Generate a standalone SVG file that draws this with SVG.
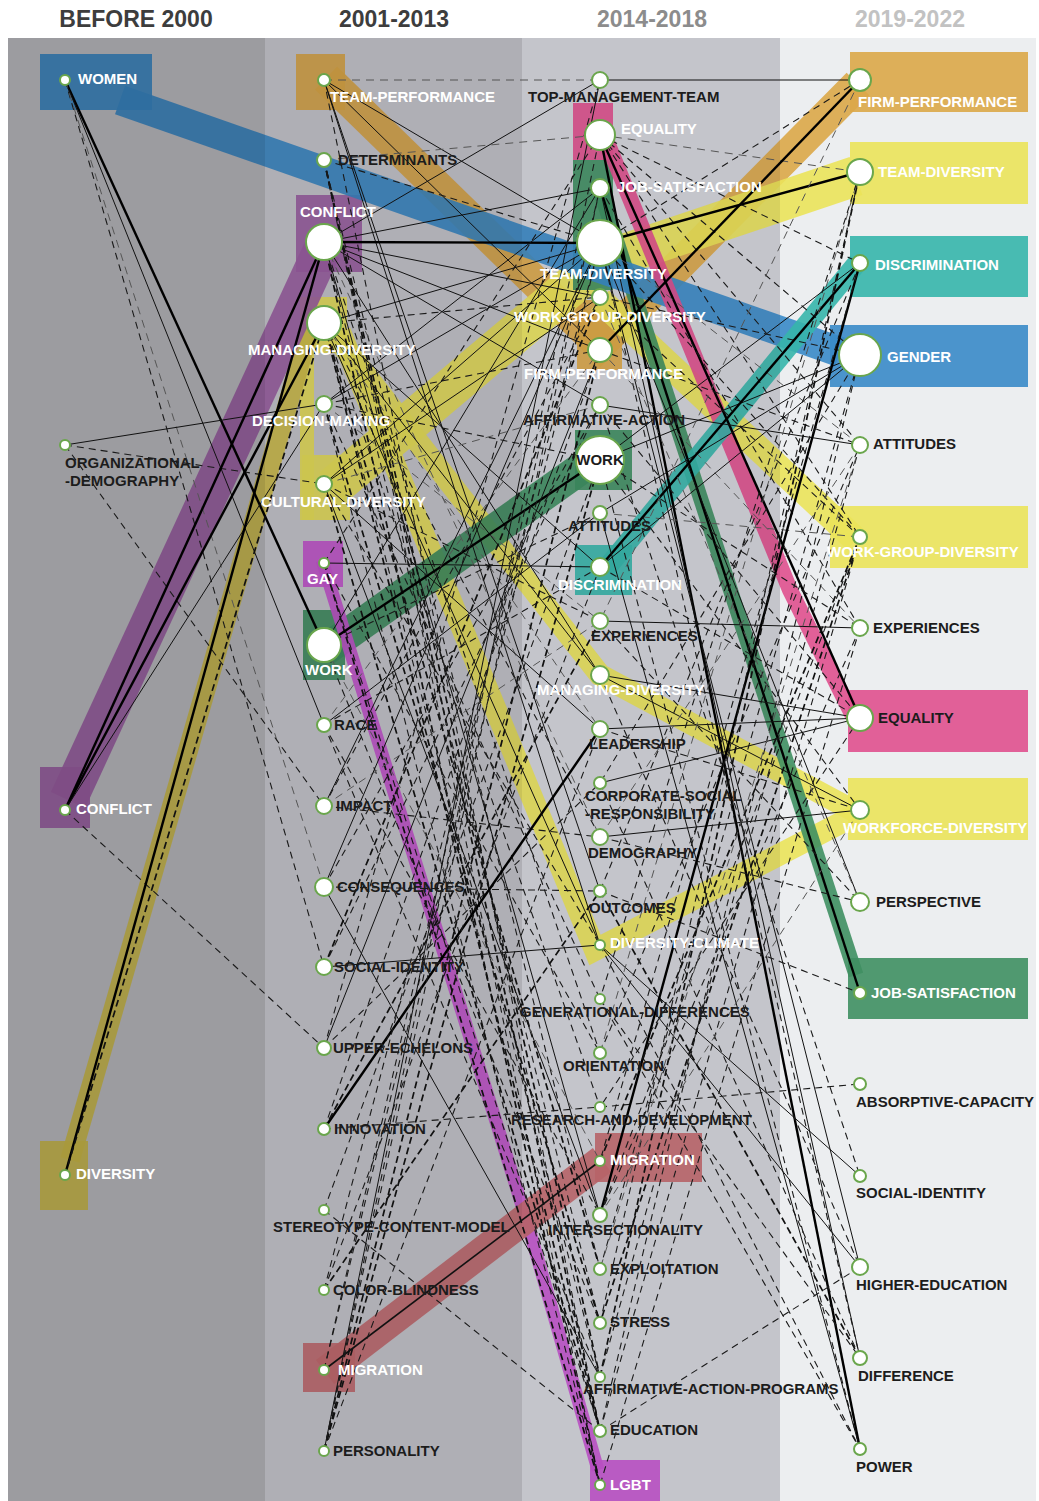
<svg xmlns="http://www.w3.org/2000/svg" width="1039" height="1501" viewBox="0 0 1039 1501">
<style>
.hd{font-family:"Liberation Sans",Arial,sans-serif;font-weight:bold;font-size:23px;text-anchor:middle}
.l{font-family:"Liberation Sans",Arial,sans-serif;font-weight:bold;font-size:15px}
.w{fill:#ffffff}
.k{fill:#1c1c1c}
.nd{fill:#ffffff;stroke:#6aa64c;stroke-width:2}
.b{fill:none;stroke-linejoin:miter;stroke-linecap:butt;opacity:0.9}
.bx{opacity:0.9}
#conn line{fill:none}
.s{stroke:#111;stroke-width:1}
.t{stroke:#000;stroke-width:2.4}
.d{stroke:#1a1a1a;stroke-width:1.1;stroke-dasharray:7 5}
.dd{stroke:#111;stroke-width:1.7;stroke-dasharray:7 4}
.g{stroke:#555;stroke-width:1;stroke-dasharray:8 6}
</style>
<rect x="0" y="0" width="1039" height="1501" fill="#ffffff"/>
<g id="columns">
<rect x="8" y="38" width="257" height="1463" fill="#c4c3c9"/>
<rect x="265" y="38" width="257" height="1463" fill="#cac9d0"/>
<rect x="522" y="38" width="258" height="1463" fill="#d3d4db"/>
<rect x="780" y="38" width="256" height="1463" fill="#eceef0"/>
</g>
<g id="headers">
<text class="hd" x="136" y="27" fill="#3d3d3d">BEFORE 2000</text>
<text class="hd" x="394" y="27" fill="#3d3d3d">2001-2013</text>
<text class="hd" x="652" y="27" fill="#8c8c8c">2014-2018</text>
<text class="hd" x="910" y="27" fill="#c2c2c2">2019-2022</text>
</g>
<g id="flows">
<polyline class="b" stroke="#dca748" stroke-width="32" points="326,78 600,345 858,84"/>
<rect class="bx" fill="#dca748" x="296" y="54" width="49" height="56"/>
<rect class="bx" fill="#dca748" x="577" y="300" width="45" height="70"/>
<rect class="bx" fill="#dca748" x="850" y="52" width="178" height="60"/>
<polyline class="b" stroke="#ebe35a" stroke-width="40" points="332,488 600,262 856,176"/>
<polyline class="b" stroke="#ebe35a" stroke-width="26" points="600,300 856,540"/>
<polyline class="b" stroke="#ebe35a" stroke-width="22" points="332,332 600,675 856,812"/>
<polyline class="b" stroke="#ebe35a" stroke-width="22" points="340,332 595,950 856,815"/>
<rect class="bx" fill="#ebe35a" x="300" y="297" width="47" height="56"/>
<rect class="bx" fill="#ebe35a" x="300" y="297" width="14" height="223"/>
<rect class="bx" fill="#ebe35a" x="302" y="455" width="48" height="65"/>
<rect class="bx" fill="#ebe35a" x="850" y="142" width="178" height="62"/>
<rect class="bx" fill="#ebe35a" x="830" y="506" width="198" height="62"/>
<rect class="bx" fill="#ebe35a" x="848" y="778" width="180" height="62"/>
<polyline class="b" stroke="#d2c04b" stroke-width="20" points="70,1160 315,310"/>
<rect class="bx" fill="#d2c04b" x="40" y="1141" width="48" height="69"/>
<polyline class="b" stroke="#9e60a6" stroke-width="38" points="68,800 322,250"/>
<rect class="bx" fill="#9e60a6" x="40" y="767" width="50" height="61"/>
<rect class="bx" fill="#9e60a6" x="296" y="195" width="66" height="77"/>
<polyline class="b" stroke="#3f8f62" stroke-width="32" points="325,650 600,455"/>
<polyline class="b" stroke="#3f8f62" stroke-width="15" points="600,190 856,975"/>
<rect class="bx" fill="#3f8f62" x="573" y="160" width="40" height="130"/>
<rect class="bx" fill="#3f8f62" x="575" y="430" width="57" height="60"/>
<rect class="bx" fill="#3f8f62" x="303" y="610" width="42" height="70"/>
<rect class="bx" fill="#3f8f62" x="848" y="958" width="180" height="61"/>
<polyline class="b" stroke="#3a8ac8" stroke-width="30" points="120,100 840,352"/>
<rect class="bx" fill="#3a8ac8" x="40" y="54" width="112" height="56"/>
<rect class="bx" fill="#3a8ac8" x="830" y="325" width="198" height="62"/>
<polyline class="b" stroke="#e0508e" stroke-width="16" points="600,125 790,590 855,720"/>
<rect class="bx" fill="#e0508e" x="573" y="103" width="40" height="57"/>
<rect class="bx" fill="#e0508e" x="848" y="690" width="180" height="62"/>
<polyline class="b" stroke="#36b5ab" stroke-width="20" points="605,570 858,262"/>
<rect class="bx" fill="#36b5ab" x="575" y="545" width="57" height="50"/>
<rect class="bx" fill="#36b5ab" x="850" y="236" width="178" height="61"/>
<polyline class="b" stroke="#c755d0" stroke-width="13" points="322,560 528,1225 598,1470"/>
<rect class="bx" fill="#c755d0" x="303" y="541" width="40" height="46"/>
<rect class="bx" fill="#c755d0" x="590" y="1460" width="70" height="41"/>
<polyline class="b" stroke="#c46b70" stroke-width="30" points="325,1372 602,1160"/>
<rect class="bx" fill="#c46b70" x="303" y="1343" width="52" height="49"/>
<rect class="bx" fill="#c46b70" x="595" y="1133" width="107" height="49"/>
</g>
<g id="shade">
<rect x="8" y="38" width="257" height="1463" fill="#000" opacity="0.2"/>
<rect x="265" y="38" width="257" height="1463" fill="#000" opacity="0.13"/>
<rect x="522" y="38" width="258" height="1463" fill="#000" opacity="0.07"/>
</g>
<g id="conn">
<line class="t" x1="65" y1="80" x2="324" y2="645"/>
<line class="s" x1="65" y1="80" x2="324" y2="725"/>
<line class="d" x1="65" y1="80" x2="324" y2="967"/>
<line class="g" x1="65" y1="80" x2="324" y2="887"/>
<line class="s" x1="65" y1="445" x2="324" y2="404"/>
<line class="d" x1="65" y1="445" x2="324" y2="484"/>
<line class="d" x1="65" y1="445" x2="324" y2="806"/>
<line class="t" x1="65" y1="810" x2="324" y2="242"/>
<line class="t" x1="65" y1="810" x2="324" y2="323"/>
<line class="s" x1="65" y1="810" x2="324" y2="404"/>
<line class="d" x1="65" y1="810" x2="324" y2="1048"/>
<line class="t" x1="65" y1="1175" x2="324" y2="242"/>
<line class="dd" x1="65" y1="1175" x2="324" y2="323"/>
<line class="g" x1="324" y1="80" x2="600" y2="80"/>
<line class="s" x1="324" y1="80" x2="600" y2="350"/>
<line class="s" x1="324" y1="80" x2="600" y2="243"/>
<line class="s" x1="324" y1="80" x2="600" y2="945"/>
<line class="s" x1="324" y1="80" x2="600" y2="891"/>
<line class="d" x1="324" y1="80" x2="600" y2="1431"/>
<line class="g" x1="324" y1="160" x2="600" y2="135"/>
<line class="d" x1="324" y1="160" x2="600" y2="243"/>
<line class="dd" x1="324" y1="160" x2="600" y2="1377"/>
<line class="dd" x1="324" y1="160" x2="600" y2="1431"/>
<line class="d" x1="324" y1="160" x2="600" y2="1485"/>
<line class="d" x1="324" y1="160" x2="600" y2="1269"/>
<line class="s" x1="324" y1="242" x2="600" y2="80"/>
<line class="t" x1="324" y1="242" x2="600" y2="243"/>
<line class="s" x1="324" y1="242" x2="600" y2="297"/>
<line class="s" x1="324" y1="242" x2="600" y2="350"/>
<line class="s" x1="324" y1="242" x2="600" y2="188"/>
<line class="s" x1="324" y1="242" x2="600" y2="405"/>
<line class="s" x1="324" y1="242" x2="600" y2="675"/>
<line class="d" x1="324" y1="242" x2="600" y2="1053"/>
<line class="s" x1="324" y1="242" x2="600" y2="1215"/>
<line class="dd" x1="324" y1="242" x2="600" y2="1485"/>
<line class="d" x1="324" y1="242" x2="600" y2="1323"/>
<line class="g" x1="324" y1="242" x2="600" y2="837"/>
<line class="s" x1="324" y1="323" x2="600" y2="243"/>
<line class="d" x1="324" y1="323" x2="600" y2="297"/>
<line class="s" x1="324" y1="323" x2="600" y2="567"/>
<line class="s" x1="324" y1="323" x2="600" y2="945"/>
<line class="s" x1="324" y1="323" x2="600" y2="675"/>
<line class="d" x1="324" y1="323" x2="600" y2="1107"/>
<line class="dd" x1="324" y1="323" x2="600" y2="1269"/>
<line class="d" x1="324" y1="323" x2="600" y2="837"/>
<line class="dd" x1="324" y1="323" x2="600" y2="1431"/>
<line class="d" x1="324" y1="323" x2="600" y2="1377"/>
<line class="g" x1="324" y1="323" x2="600" y2="729"/>
<line class="s" x1="324" y1="404" x2="600" y2="243"/>
<line class="s" x1="324" y1="404" x2="600" y2="188"/>
<line class="d" x1="324" y1="404" x2="600" y2="350"/>
<line class="d" x1="324" y1="404" x2="600" y2="460"/>
<line class="d" x1="324" y1="404" x2="600" y2="999"/>
<line class="dd" x1="324" y1="404" x2="600" y2="1323"/>
<line class="d" x1="324" y1="404" x2="600" y2="1485"/>
<line class="g" x1="324" y1="404" x2="600" y2="621"/>
<line class="s" x1="324" y1="484" x2="600" y2="243"/>
<line class="s" x1="324" y1="484" x2="600" y2="297"/>
<line class="s" x1="324" y1="484" x2="600" y2="729"/>
<line class="d" x1="324" y1="484" x2="600" y2="945"/>
<line class="d" x1="324" y1="484" x2="600" y2="621"/>
<line class="s" x1="324" y1="484" x2="600" y2="1215"/>
<line class="dd" x1="324" y1="484" x2="600" y2="1431"/>
<line class="g" x1="324" y1="484" x2="600" y2="405"/>
<line class="s" x1="324" y1="563" x2="600" y2="567"/>
<line class="dd" x1="324" y1="563" x2="600" y2="1485"/>
<line class="d" x1="324" y1="563" x2="600" y2="1053"/>
<line class="d" x1="324" y1="563" x2="600" y2="1431"/>
<line class="d" x1="324" y1="563" x2="600" y2="135"/>
<line class="t" x1="324" y1="645" x2="600" y2="460"/>
<line class="s" x1="324" y1="645" x2="600" y2="188"/>
<line class="d" x1="324" y1="645" x2="600" y2="1323"/>
<line class="d" x1="324" y1="645" x2="600" y2="513"/>
<line class="g" x1="324" y1="645" x2="600" y2="1161"/>
<line class="s" x1="324" y1="725" x2="600" y2="513"/>
<line class="d" x1="324" y1="725" x2="600" y2="567"/>
<line class="d" x1="324" y1="725" x2="600" y2="1215"/>
<line class="g" x1="324" y1="725" x2="600" y2="350"/>
<line class="d" x1="324" y1="725" x2="600" y2="1377"/>
<line class="d" x1="324" y1="806" x2="600" y2="837"/>
<line class="s" x1="324" y1="806" x2="600" y2="243"/>
<line class="g" x1="324" y1="806" x2="600" y2="621"/>
<line class="d" x1="324" y1="806" x2="600" y2="297"/>
<line class="d" x1="324" y1="887" x2="600" y2="891"/>
<line class="s" x1="324" y1="887" x2="600" y2="243"/>
<line class="s" x1="324" y1="887" x2="600" y2="1377"/>
<line class="d" x1="324" y1="887" x2="600" y2="405"/>
<line class="s" x1="324" y1="967" x2="600" y2="945"/>
<line class="d" x1="324" y1="967" x2="600" y2="405"/>
<line class="dd" x1="324" y1="967" x2="600" y2="297"/>
<line class="d" x1="324" y1="1048" x2="600" y2="80"/>
<line class="s" x1="324" y1="1048" x2="600" y2="350"/>
<line class="d" x1="324" y1="1048" x2="600" y2="783"/>
<line class="t" x1="324" y1="1129" x2="600" y2="729"/>
<line class="d" x1="324" y1="1129" x2="600" y2="1107"/>
<line class="dd" x1="324" y1="1129" x2="600" y2="621"/>
<line class="d" x1="324" y1="1129" x2="600" y2="350"/>
<line class="d" x1="324" y1="1210" x2="600" y2="1431"/>
<line class="d" x1="324" y1="1210" x2="600" y2="460"/>
<line class="d" x1="324" y1="1290" x2="600" y2="567"/>
<line class="dd" x1="324" y1="1290" x2="600" y2="891"/>
<line class="d" x1="324" y1="1290" x2="600" y2="243"/>
<line class="s" x1="324" y1="1370" x2="600" y2="1161" style="stroke-width:1.6"/>
<line class="d" x1="324" y1="1370" x2="600" y2="243"/>
<line class="d" x1="324" y1="1370" x2="600" y2="188"/>
<line class="s" x1="324" y1="1451" x2="600" y2="80"/>
<line class="dd" x1="324" y1="1451" x2="600" y2="350"/>
<line class="dd" x1="324" y1="1451" x2="600" y2="460"/>
<line class="d" x1="324" y1="1451" x2="600" y2="188"/>
<line class="d" x1="324" y1="1451" x2="600" y2="729"/>
<line class="d" x1="324" y1="1451" x2="600" y2="135"/>
<line class="s" x1="600" y1="80" x2="860" y2="80"/>
<line class="t" x1="600" y1="135" x2="860" y2="718"/>
<line class="t" x1="600" y1="135" x2="860" y2="1449"/>
<line class="d" x1="600" y1="135" x2="860" y2="355"/>
<line class="d" x1="600" y1="135" x2="860" y2="263"/>
<line class="d" x1="600" y1="135" x2="860" y2="445"/>
<line class="g" x1="600" y1="135" x2="860" y2="172"/>
<line class="d" x1="600" y1="135" x2="860" y2="537"/>
<line class="t" x1="600" y1="188" x2="860" y2="993"/>
<line class="s" x1="600" y1="188" x2="860" y2="1358"/>
<line class="d" x1="600" y1="188" x2="860" y2="628"/>
<line class="t" x1="600" y1="243" x2="860" y2="172"/>
<line class="d" x1="600" y1="243" x2="860" y2="80"/>
<line class="d" x1="600" y1="243" x2="860" y2="537"/>
<line class="d" x1="600" y1="243" x2="860" y2="1358"/>
<line class="s" x1="600" y1="243" x2="860" y2="902"/>
<line class="s" x1="600" y1="243" x2="860" y2="1267"/>
<line class="g" x1="600" y1="243" x2="860" y2="445"/>
<line class="d" x1="600" y1="297" x2="860" y2="537"/>
<line class="d" x1="600" y1="297" x2="860" y2="355"/>
<line class="t" x1="600" y1="350" x2="860" y2="80"/>
<line class="d" x1="600" y1="350" x2="860" y2="445"/>
<line class="g" x1="600" y1="350" x2="860" y2="628"/>
<line class="s" x1="600" y1="405" x2="860" y2="445"/>
<line class="d" x1="600" y1="405" x2="860" y2="718"/>
<line class="s" x1="600" y1="460" x2="860" y2="355"/>
<line class="s" x1="600" y1="460" x2="860" y2="263"/>
<line class="d" x1="600" y1="460" x2="860" y2="628"/>
<line class="d" x1="600" y1="460" x2="860" y2="810"/>
<line class="d" x1="600" y1="460" x2="860" y2="1449"/>
<line class="s" x1="600" y1="513" x2="860" y2="355"/>
<line class="g" x1="600" y1="513" x2="860" y2="537"/>
<line class="t" x1="600" y1="567" x2="860" y2="263"/>
<line class="s" x1="600" y1="567" x2="860" y2="355"/>
<line class="d" x1="600" y1="567" x2="860" y2="718"/>
<line class="s" x1="600" y1="621" x2="860" y2="628"/>
<line class="d" x1="600" y1="621" x2="860" y2="902"/>
<line class="s" x1="600" y1="675" x2="860" y2="810"/>
<line class="s" x1="600" y1="675" x2="860" y2="718"/>
<line class="s" x1="600" y1="729" x2="860" y2="718"/>
<line class="d" x1="600" y1="729" x2="860" y2="810"/>
<line class="s" x1="600" y1="783" x2="860" y2="718"/>
<line class="s" x1="600" y1="837" x2="860" y2="810"/>
<line class="d" x1="600" y1="837" x2="860" y2="902"/>
<line class="d" x1="600" y1="891" x2="860" y2="993"/>
<line class="s" x1="600" y1="945" x2="860" y2="1176"/>
<line class="s" x1="600" y1="945" x2="860" y2="1267"/>
<line class="d" x1="600" y1="999" x2="860" y2="1358"/>
<line class="d" x1="600" y1="999" x2="860" y2="1449"/>
<line class="d" x1="600" y1="945" x2="860" y2="1449"/>
<line class="dd" x1="600" y1="891" x2="860" y2="1358"/>
<line class="d" x1="600" y1="783" x2="860" y2="1358"/>
<line class="s" x1="600" y1="513" x2="860" y2="1449"/>
<line class="d" x1="600" y1="1107" x2="860" y2="1084"/>
<line class="d" x1="600" y1="1431" x2="860" y2="1267"/>
<line class="t" x1="600" y1="1215" x2="860" y2="263"/>
<line class="dd" x1="600" y1="1377" x2="860" y2="172"/>
<line class="d" x1="600" y1="1323" x2="860" y2="172"/>
<line class="d" x1="600" y1="1269" x2="860" y2="355"/>
<line class="d" x1="600" y1="1053" x2="860" y2="445"/>
<line class="d" x1="600" y1="1215" x2="860" y2="537"/>
<line class="dd" x1="600" y1="1161" x2="860" y2="537"/>
<line class="d" x1="600" y1="1431" x2="860" y2="355"/>
<line class="d" x1="600" y1="1377" x2="860" y2="445"/>
<line class="d" x1="860" y1="537" x2="600" y2="1431"/>
<line class="d" x1="860" y1="628" x2="600" y2="1485"/>
<line class="dd" x1="860" y1="537" x2="600" y2="1323"/>
<line class="g" x1="860" y1="445" x2="600" y2="1269"/>
<line class="d" x1="860" y1="628" x2="600" y2="1215"/>
<line class="d" x1="860" y1="263" x2="600" y2="1161"/>
<line class="g" x1="860" y1="172" x2="600" y2="1053"/>
<line class="d" x1="860" y1="172" x2="600" y2="999"/>
<line class="d" x1="860" y1="263" x2="600" y2="891"/>
<line class="g" x1="860" y1="80" x2="600" y2="621"/>
<line class="d" x1="860" y1="355" x2="600" y2="783"/>
<line class="g" x1="860" y1="445" x2="600" y2="837"/>
<line class="d" x1="860" y1="718" x2="600" y2="1107"/>
<line class="g" x1="860" y1="810" x2="600" y2="1215"/>
<line class="d" x1="600" y1="405" x2="860" y2="1176"/>
<line class="g" x1="600" y1="297" x2="860" y2="902"/>
<line class="d" x1="600" y1="675" x2="860" y2="1267"/>
</g>
<g id="n1-women"><circle class="nd" cx="65" cy="80" r="5"/><text class="l w" x="78" y="84">WOMEN</text></g>
<g id="n1-orgdemo"><circle class="nd" cx="65" cy="445" r="5"/><text class="l k" x="65" y="468">ORGANIZATIONAL</text><text class="l k" x="65" y="486">-DEMOGRAPHY</text></g>
<g id="n1-conflict"><circle class="nd" cx="65" cy="810" r="5"/><text class="l w" x="76" y="814">CONFLICT</text></g>
<g id="n1-diversity"><circle class="nd" cx="65" cy="1175" r="5"/><text class="l w" x="76" y="1179">DIVERSITY</text></g>
<g id="n2-teamperf"><circle class="nd" cx="324" cy="80" r="6"/><text class="l w" x="330" y="102">TEAM-PERFORMANCE</text></g>
<g id="n2-determinants"><circle class="nd" cx="324" cy="160" r="7"/><text class="l k" x="338" y="165">DETERMINANTS</text></g>
<g id="n2-conflict"><circle class="nd" cx="324" cy="242" r="18"/><text class="l w" x="300" y="217">CONFLICT</text></g>
<g id="n2-managingdiv"><circle class="nd" cx="324" cy="323" r="17"/><text class="l w" x="248" y="355">MANAGING-DIVERSITY</text></g>
<g id="n2-decision"><circle class="nd" cx="324" cy="404" r="8"/><text class="l w" x="252" y="426">DECISION-MAKING</text></g>
<g id="n2-cultural"><circle class="nd" cx="324" cy="484" r="8"/><text class="l w" x="261" y="507">CULTURAL-DIVERSITY</text></g>
<g id="n2-gay"><circle class="nd" cx="324" cy="563" r="5"/><text class="l w" x="307" y="584">GAY</text></g>
<g id="n2-work"><circle class="nd" cx="324" cy="645" r="17"/><text class="l w" x="305" y="675">WORK</text></g>
<g id="n2-race"><circle class="nd" cx="324" cy="725" r="7"/><text class="l k" x="334" y="730">RACE</text></g>
<g id="n2-impact"><circle class="nd" cx="324" cy="806" r="8"/><text class="l k" x="336" y="811">IMPACT</text></g>
<g id="n2-consequences"><circle class="nd" cx="324" cy="887" r="9"/><text class="l k" x="337" y="892">CONSEQUENCES</text></g>
<g id="n2-socialid"><circle class="nd" cx="324" cy="967" r="8"/><text class="l k" x="334" y="972">SOCIAL-IDENTITY</text></g>
<g id="n2-upper"><circle class="nd" cx="324" cy="1048" r="7"/><text class="l k" x="333" y="1053">UPPER-ECHELONS</text></g>
<g id="n2-innovation"><circle class="nd" cx="324" cy="1129" r="6"/><text class="l k" x="334" y="1134">INNOVATION</text></g>
<g id="n2-stereotype"><circle class="nd" cx="324" cy="1210" r="5"/><text class="l k" x="273" y="1232">STEREOTYPE-CONTENT-MODEL</text></g>
<g id="n2-colorblind"><circle class="nd" cx="324" cy="1290" r="5"/><text class="l k" x="333" y="1295">COLOR-BLINDNESS</text></g>
<g id="n2-migration"><circle class="nd" cx="324" cy="1370" r="5"/><text class="l w" x="338" y="1375">MIGRATION</text></g>
<g id="n2-personality"><circle class="nd" cx="324" cy="1451" r="5"/><text class="l k" x="333" y="1456">PERSONALITY</text></g>
<g id="n3-tmt"><circle class="nd" cx="600" cy="80" r="8"/><text class="l k" x="528" y="102">TOP-MANAGEMENT-TEAM</text></g>
<g id="n3-equality"><circle class="nd" cx="600" cy="135" r="15"/><text class="l w" x="621" y="134">EQUALITY</text></g>
<g id="n3-jobsat"><circle class="nd" cx="600" cy="188" r="9"/><text class="l w" x="617" y="192">JOB-SATISFACTION</text></g>
<g id="n3-teamdiv"><circle class="nd" cx="600" cy="243" r="23"/><text class="l w" x="540" y="279">TEAM-DIVERSITY</text></g>
<g id="n3-wgd"><circle class="nd" cx="600" cy="297" r="8"/><text class="l w" x="514" y="322">WORK-GROUP-DIVERSITY</text></g>
<g id="n3-firmperf"><circle class="nd" cx="600" cy="350" r="12"/><text class="l w" x="524" y="379">FIRM-PERFORMANCE</text></g>
<g id="n3-aa"><circle class="nd" cx="600" cy="405" r="8"/><text class="l k" x="523" y="425">AFFIRMATIVE-ACTION</text></g>
<g id="n3-work"><circle class="nd" cx="600" cy="460" r="24"/><text class="l k" x="600" y="465" text-anchor="middle">WORK</text></g>
<g id="n3-attitudes"><circle class="nd" cx="600" cy="513" r="7"/><text class="l k" x="568" y="531">ATTITUDES</text></g>
<g id="n3-discrimination"><circle class="nd" cx="600" cy="567" r="9"/><text class="l w" x="558" y="590">DISCRIMINATION</text></g>
<g id="n3-experiences"><circle class="nd" cx="600" cy="621" r="8"/><text class="l k" x="591" y="641">EXPERIENCES</text></g>
<g id="n3-managingdiv"><circle class="nd" cx="600" cy="675" r="9"/><text class="l w" x="537" y="695">MANAGING-DIVERSITY</text></g>
<g id="n3-leadership"><circle class="nd" cx="600" cy="729" r="8"/><text class="l k" x="589" y="749">LEADERSHIP</text></g>
<g id="n3-csr"><circle class="nd" cx="600" cy="783" r="6"/><text class="l k" x="585" y="801">CORPORATE-SOCIAL</text><text class="l k" x="585" y="819">-RESPONSIBILITY</text></g>
<g id="n3-demography"><circle class="nd" cx="600" cy="837" r="8"/><text class="l k" x="588" y="858">DEMOGRAPHY</text></g>
<g id="n3-outcomes"><circle class="nd" cx="600" cy="891" r="6"/><text class="l k" x="589" y="913">OUTCOMES</text></g>
<g id="n3-divclimate"><circle class="nd" cx="600" cy="945" r="5"/><text class="l w" x="610" y="948">DIVERSITY-CLIMATE</text></g>
<g id="n3-generational"><circle class="nd" cx="600" cy="999" r="5"/><text class="l k" x="520" y="1017">GENERATIONAL-DIFFERENCES</text></g>
<g id="n3-orientation"><circle class="nd" cx="600" cy="1053" r="6"/><text class="l k" x="563" y="1071">ORIENTATION</text></g>
<g id="n3-rd"><circle class="nd" cx="600" cy="1107" r="5"/><text class="l k" x="511" y="1125">RESEARCH-AND-DEVELOPMENT</text></g>
<g id="n3-migration"><circle class="nd" cx="600" cy="1161" r="5"/><text class="l w" x="610" y="1165">MIGRATION</text></g>
<g id="n3-intersect"><circle class="nd" cx="600" cy="1215" r="7"/><text class="l k" x="548" y="1235">INTERSECTIONALITY</text></g>
<g id="n3-exploitation"><circle class="nd" cx="600" cy="1269" r="6"/><text class="l k" x="610" y="1274">EXPLOITATION</text></g>
<g id="n3-stress"><circle class="nd" cx="600" cy="1323" r="6"/><text class="l k" x="610" y="1327">STRESS</text></g>
<g id="n3-aap"><circle class="nd" cx="600" cy="1377" r="5"/><text class="l k" x="583" y="1394">AFFIRMATIVE-ACTION-PROGRAMS</text></g>
<g id="n3-education"><circle class="nd" cx="600" cy="1431" r="6"/><text class="l k" x="610" y="1435">EDUCATION</text></g>
<g id="n3-lgbt"><circle class="nd" cx="600" cy="1485" r="5"/><text class="l w" x="610" y="1490">LGBT</text></g>
<g id="n4-firmperf"><circle class="nd" cx="860" cy="80" r="11"/><text class="l w" x="858" y="107">FIRM-PERFORMANCE</text></g>
<g id="n4-teamdiv"><circle class="nd" cx="860" cy="172" r="13"/><text class="l w" x="878" y="177">TEAM-DIVERSITY</text></g>
<g id="n4-discrimination"><circle class="nd" cx="860" cy="263" r="8"/><text class="l w" x="875" y="270">DISCRIMINATION</text></g>
<g id="n4-gender"><circle class="nd" cx="860" cy="355" r="21"/><text class="l w" x="887" y="362">GENDER</text></g>
<g id="n4-attitudes"><circle class="nd" cx="860" cy="445" r="8"/><text class="l k" x="873" y="449">ATTITUDES</text></g>
<g id="n4-wgd"><circle class="nd" cx="860" cy="537" r="7"/><text class="l w" x="827" y="557">WORK-GROUP-DIVERSITY</text></g>
<g id="n4-experiences"><circle class="nd" cx="860" cy="628" r="8"/><text class="l k" x="873" y="633">EXPERIENCES</text></g>
<g id="n4-equality"><circle class="nd" cx="860" cy="718" r="13"/><text class="l k" x="878" y="723">EQUALITY</text></g>
<g id="n4-workforce"><circle class="nd" cx="860" cy="810" r="9"/><text class="l w" x="843" y="833">WORKFORCE-DIVERSITY</text></g>
<g id="n4-perspective"><circle class="nd" cx="860" cy="902" r="9"/><text class="l k" x="876" y="907">PERSPECTIVE</text></g>
<g id="n4-jobsat"><circle class="nd" cx="860" cy="993" r="6"/><text class="l w" x="871" y="998">JOB-SATISFACTION</text></g>
<g id="n4-absorptive"><circle class="nd" cx="860" cy="1084" r="6"/><text class="l k" x="856" y="1107">ABSORPTIVE-CAPACITY</text></g>
<g id="n4-socialid"><circle class="nd" cx="860" cy="1176" r="6"/><text class="l k" x="856" y="1198">SOCIAL-IDENTITY</text></g>
<g id="n4-highered"><circle class="nd" cx="860" cy="1267" r="8"/><text class="l k" x="856" y="1290">HIGHER-EDUCATION</text></g>
<g id="n4-difference"><circle class="nd" cx="860" cy="1358" r="7"/><text class="l k" x="858" y="1381">DIFFERENCE</text></g>
<g id="n4-power"><circle class="nd" cx="860" cy="1449" r="6"/><text class="l k" x="856" y="1472">POWER</text></g>
</svg>
